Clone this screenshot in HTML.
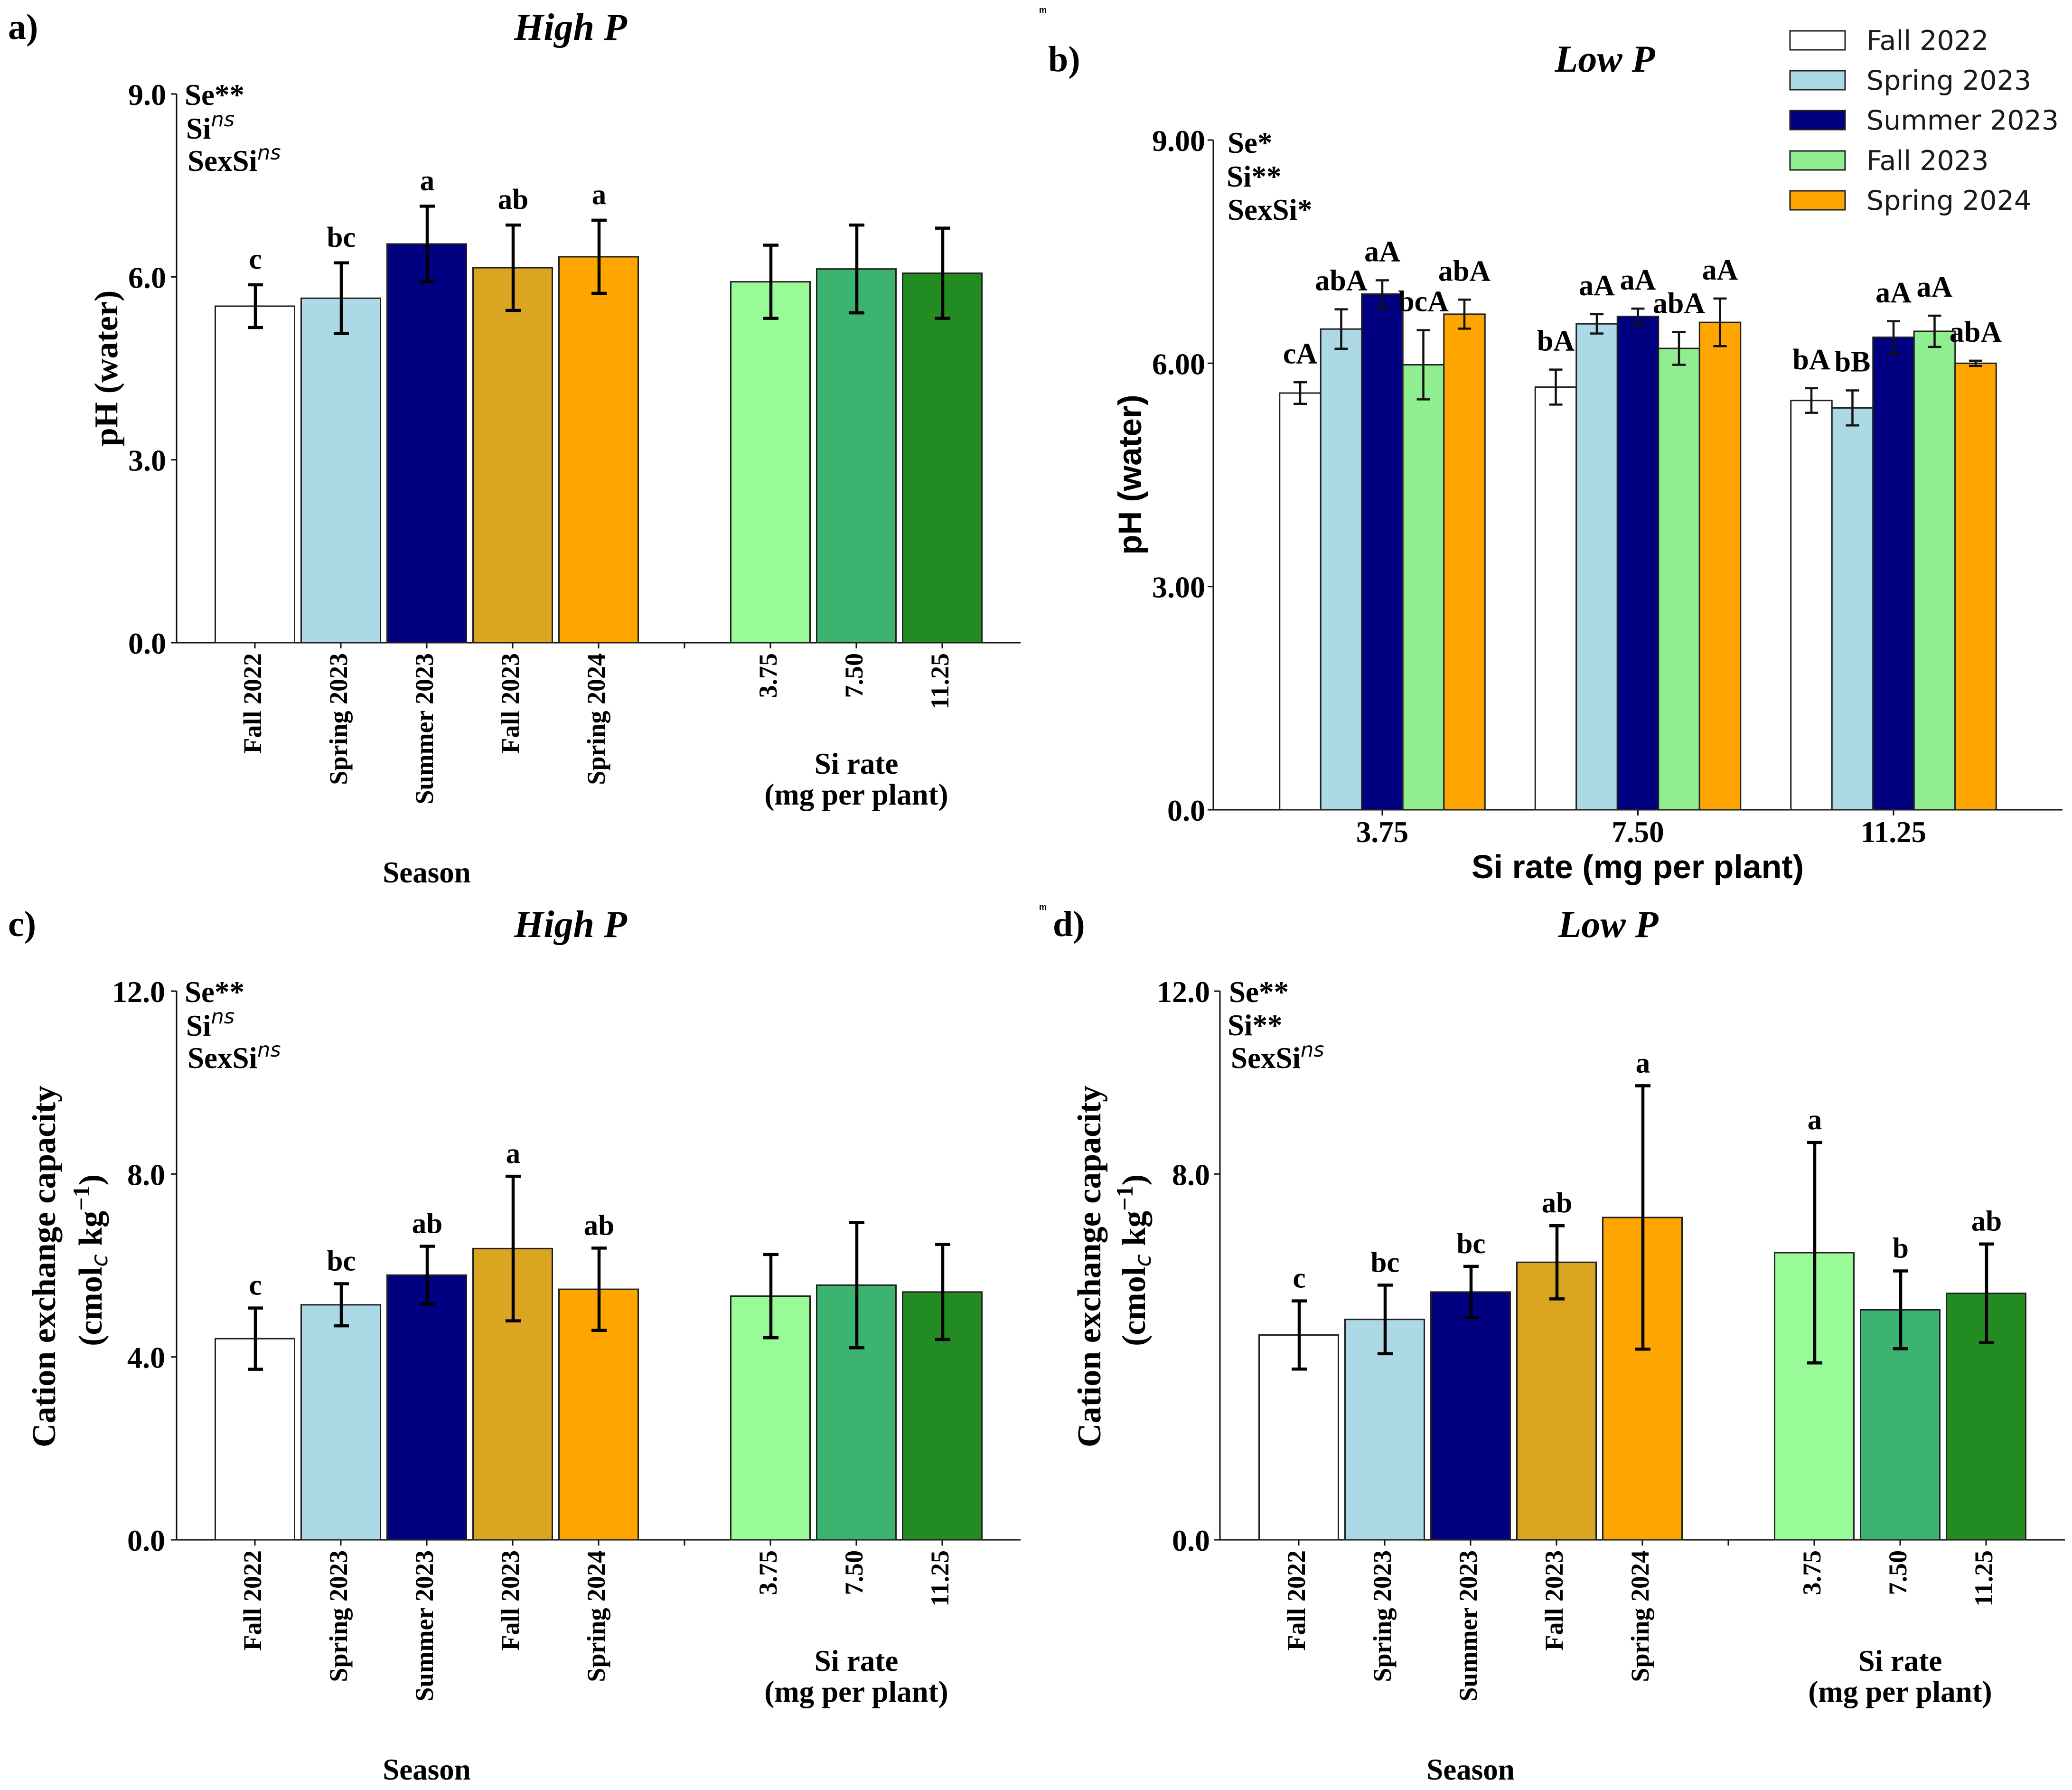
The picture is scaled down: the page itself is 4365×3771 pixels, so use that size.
<!DOCTYPE html>
<html lang="en">
<head>
<meta charset="utf-8">
<title>Soil pH and cation exchange capacity by season and Si rate</title>
<style>
html,body{margin:0;padding:0;background:#fff;}
svg{display:block;}
.s{font-family:"Liberation Serif",serif;font-weight:bold;fill:#000;}
.a{font-family:"Liberation Sans",sans-serif;font-weight:bold;fill:#000;}
.m{font-family:"DejaVu Sans",sans-serif;font-style:oblique;font-weight:normal;}
.l{font-family:"DejaVu Sans",sans-serif;fill:#1a1a1a;font-size:57px;}
</style>
</head>
<body>
<svg id="figure" xmlns="http://www.w3.org/2000/svg" width="4365" height="3771" viewBox="0 0 4365 3771">
<rect x="0" y="0" width="4365" height="3771" fill="#fff"/>

<text class="s" x="17" y="82" font-size="76">a)</text>
<text class="s" font-style="italic" x="1202" y="84" font-size="80" text-anchor="middle">High P</text>
<text class="s" font-size="70" text-anchor="middle" transform="translate(247,776) rotate(-90)">pH (water)</text>
<g class="s" font-size="63">
<text x="389" y="221">Se**</text>
<text x="392" y="292">Si<tspan class="m" font-size="43" dy="-26">ns</tspan></text>
<text x="395" y="360">SexSi<tspan class="m" font-size="43" dy="-24">ns</tspan></text>
</g>
<g id="panel-a"></g>

<text class="s" x="2208" y="150" font-size="76">b)</text>
<text class="s" font-style="italic" x="3381" y="151" font-size="80" text-anchor="middle">Low P</text>
<text class="a" font-size="69" text-anchor="middle" transform="translate(2404,1000) rotate(-90)">pH (water)</text>
<text class="a" font-size="70" text-anchor="middle" x="3450" y="1850">Si rate (mg per plant)</text>
<g class="s" font-size="63">
<text x="2586" y="322">Se*</text>
<text x="2584" y="393">Si**</text>
<text x="2586" y="463">SexSi*</text>
</g>
<g id="panel-b"></g>

<text class="s" x="17" y="1972" font-size="76">c)</text>
<text class="s" font-style="italic" x="1202" y="1974" font-size="80" text-anchor="middle">High P</text>
<text class="s" font-size="70" text-anchor="middle" transform="translate(116,2668) rotate(-90)">Cation exchange capacity</text>
<text class="s" font-size="70" text-anchor="middle" transform="translate(214,2655) rotate(-90)">(cmol<tspan class="m" font-size="48" dy="12">c</tspan><tspan dy="-12"> kg</tspan><tspan font-size="50" dy="-26">−1</tspan><tspan dy="26">)</tspan></text>
<g class="s" font-size="63">
<text x="389" y="2111">Se**</text>
<text x="392" y="2182">Si<tspan class="m" font-size="43" dy="-26">ns</tspan></text>
<text x="395" y="2250">SexSi<tspan class="m" font-size="43" dy="-24">ns</tspan></text>
</g>
<g id="panel-c"></g>

<text class="s" x="2218" y="1972" font-size="76">d)</text>
<text class="s" font-style="italic" x="3388" y="1974" font-size="80" text-anchor="middle">Low P</text>
<text class="s" font-size="70" text-anchor="middle" transform="translate(2318,2668) rotate(-90)">Cation exchange capacity</text>
<text class="s" font-size="70" text-anchor="middle" transform="translate(2412,2655) rotate(-90)">(cmol<tspan class="m" font-size="48" dy="12">c</tspan><tspan dy="-12"> kg</tspan><tspan font-size="50" dy="-26">−1</tspan><tspan dy="26">)</tspan></text>
<g class="s" font-size="63">
<text x="2589" y="2111">Se**</text>
<text x="2586" y="2181">Si**</text>
<text x="2593" y="2250">SexSi<tspan class="m" font-size="43" dy="-24">ns</tspan></text>
</g>
<g id="panel-d"></g>

<g>
<rect x="3771" y="65" width="116" height="40" fill="#ffffff" stroke="#222" stroke-width="3"/>
<text class="l" x="3932" y="105">Fall 2022</text>
<rect x="3771" y="149" width="116" height="40" fill="#ADD8E6" stroke="#222" stroke-width="3"/>
<text class="l" x="3932" y="189">Spring 2023</text>
<rect x="3771" y="233" width="116" height="40" fill="#000080" stroke="#222" stroke-width="3"/>
<text class="l" x="3932" y="273">Summer 2023</text>
<rect x="3771" y="318" width="116" height="40" fill="#90EE90" stroke="#222" stroke-width="3"/>
<text class="l" x="3932" y="358">Fall 2023</text>
<rect x="3771" y="402" width="116" height="40" fill="#FFA500" stroke="#222" stroke-width="3"/>
<text class="l" x="3932" y="442">Spring 2024</text>
</g>

<text class="a" x="2197" y="27" font-size="18" fill="#333" text-anchor="middle">m</text>
<text class="a" x="2197" y="1917" font-size="18" fill="#333" text-anchor="middle">m</text>
</svg>

<script>
// ---------- data: panels a, c, d (main effects) ----------
const mainCategories = ["Fall 2022", "Spring 2023", "Summer 2023", "Fall 2023", "Spring 2024", "3.75", "7.50", "11.25"];

const panelAValues = [5.52, 5.65, 6.54, 6.15, 6.33, 5.92, 6.13, 6.06];
const panelAErrors = [0.35, 0.58, 0.62, 0.70, 0.60, 0.60, 0.72, 0.74];
const panelALetters = ["c", "bc", "a", "ab", "a", "", "", ""];
const panelATicks = [0, 3, 6, 9];
const panelATickLabels = ["0.0", "3.0", "6.0", "9.0"];

const panelCValues = [4.40, 5.14, 5.79, 6.37, 5.48, 5.33, 5.57, 5.42];
const panelCErrors = [0.67, 0.46, 0.63, 1.58, 0.90, 0.91, 1.37, 1.04];
const panelCLetters = ["c", "bc", "ab", "a", "ab", "", "", ""];
const panelCTicks = [0, 4, 8, 12];
const panelCTickLabels = ["0.0", "4.0", "8.0", "12.0"];

const panelDValues = [4.48, 4.82, 5.42, 6.07, 7.05, 6.28, 5.03, 5.39];
const panelDErrors = [0.745, 0.75, 0.56, 0.80, 2.88, 2.41, 0.85, 1.08];
const panelDLetters = ["c", "bc", "bc", "ab", "a", "a", "b", "ab"];
const panelDTicks = [0, 8, 12];
const panelDTickLabels = ["0.0", "8.0", "12.0"];

const mainColors = ["#FFFFFF", "#ADD8E6", "#000080", "#DAA520", "#FFA500", "#98FB98", "#3CB371", "#228B22"];

// ---------- data: panel b (grouped) ----------
const groupCategories = ["3.75", "7.50", "11.25"];
const seriesNames = ["Fall 2022", "Spring 2023", "Summer 2023", "Fall 2023", "Spring 2024"];
const seriesFall2022 = [5.60, 5.68, 5.50];
const seriesSpring2023 = [6.46, 6.53, 5.40];
const seriesSummer2023 = [6.93, 6.63, 6.35];
const seriesFall2023 = [5.98, 6.20, 6.43];
const seriesSpring2024 = [6.66, 6.55, 6.00];
const errorsFall2022 = [0.145, 0.235, 0.165];
const errorsSpring2023 = [0.265, 0.13, 0.235];
const errorsSummer2023 = [0.185, 0.105, 0.215];
const errorsFall2023 = [0.465, 0.22, 0.21];
const errorsSpring2024 = [0.195, 0.32, 0.035];
const lettersFall2022 = ["cA", "bA", "bA"];
const lettersSpring2023 = ["abA", "aA", "bB"];
const lettersSummer2023 = ["aA", "aA", "aA"];
const lettersFall2023 = ["bcA", "abA", "aA"];
const lettersSpring2024 = ["abA", "aA", "abA"];
const panelBTicks = [0, 3, 6, 9];
const panelBTickLabels = ["0.0", "3.00", "6.00", "9.00"];
const groupColors = ["#FFFFFF", "#ADD8E6", "#000080", "#90EE90", "#FFA500"];

// ---------- drawing ----------
const NS = "http://www.w3.org/2000/svg";
function mk(parent, tag, attrs, text) {
  const el = document.createElementNS(NS, tag);
  for (const k in attrs) el.setAttribute(k, attrs[k]);
  if (text !== undefined) el.textContent = text;
  parent.appendChild(el);
  return el;
}
function slug(s) { return String(s).toLowerCase().replace(/[^a-z0-9]+/g, "-"); }

function drawAxes(g, axis, ticks, tickLabels, prefix) {
  const yScale = v => axis.y0 - (v / axis.max) * (axis.y0 - axis.yTop);
  const spineY = mk(g, "line", { x1: axis.x, x2: axis.x, y1: yScale(axis.max), y2: axis.y0, stroke: "#111", "stroke-width": 3 });
  
  
  const spineX = mk(g, "line", { x1: axis.x - 1.5, x2: axis.right, y1: axis.y0, y2: axis.y0, stroke: "#111", "stroke-width": 3 });
  
  
  ticks.forEach((t, i) => {
    const y = yScale(t);
    const tk = mk(g, "line", { x1: axis.x - 12, x2: axis.x, y1: y, y2: y, stroke: "#111", "stroke-width": 3 });
    
    
    const lb = mk(g, "text", { class: "s", x: axis.labelRight, y: y + 23, "font-size": 64, "text-anchor": "end" }, tickLabels[i]);
    
    
  });
  return yScale;
}

function drawMainPanel(id, prefix, axis, categories, values, errors, letters, ticks, tickLabels, colors) {
  const g = document.getElementById(id);
  const yScale = drawAxes(g, axis, ticks, tickLabels, prefix);
  const slotOf = i => (i < 5 ? i : i + 1);
  const xScale = i => axis.x0 + slotOf(i) * axis.step;

  // blank separator tick between the season and rate blocks
  const sep = mk(g, "line", { x1: axis.x0 + 5 * axis.step, x2: axis.x0 + 5 * axis.step, y1: axis.y0, y2: axis.y0 + 12, stroke: "#111", "stroke-width": 3 });
  
  

  categories.forEach((c, i) => {
    const x = xScale(i);
    const v = values[i];
    const bar = mk(g, "rect", { x: x - axis.barW / 2, y: yScale(v), width: axis.barW, height: axis.y0 - yScale(v), fill: colors[i], stroke: "#222", "stroke-width": 3 });
    
    
    const tk = mk(g, "line", { x1: x, x2: x, y1: axis.y0, y2: axis.y0 + 12, stroke: "#111", "stroke-width": 3 });
    
    
    const lb = mk(g, "text", { class: "s", "font-size": 54, "text-anchor": "end", transform: "translate(" + (x + 13) + "," + (axis.y0 + 22) + ") rotate(-90)" }, c);
    
    
  });
  categories.forEach((c, i) => {
    const x = xScale(i) + 1;
    const hi = yScale(values[i] + errors[i]);
    const lo = yScale(values[i] - errors[i]);
    const err = mk(g, "path", { d: "M" + x + " " + hi + "V" + lo + "M" + (x - 16) + " " + hi + "H" + (x + 16) + "M" + (x - 16) + " " + lo + "H" + (x + 16), fill: "none", stroke: "#000", "stroke-width": 6.5 });
    
    
    if (letters[i]) {
      const t = mk(g, "text", { class: "s", x: x, y: hi - axis.letterGap, "font-size": 61, "text-anchor": "middle" }, letters[i]);
      
      
    }
  });

  const rateA = mk(g, "text", { class: "s", x: xScale(6), y: axis.y0 + 276, "font-size": 63, "text-anchor": "middle" }, "Si rate");
  
  
  const rateB = mk(g, "text", { class: "s", x: xScale(6), y: axis.y0 + 341, "font-size": 63, "text-anchor": "middle" }, "(mg per plant)");
  
  
  const season = mk(g, "text", { class: "s", x: xScale(2), y: axis.y0 + 505, "font-size": 63, "text-anchor": "middle" }, "Season");
  
  
}

function drawGroupedPanel(id, prefix, axis, groups, names, seriesList, errorList, letterList, ticks, tickLabels, colors) {
  const g = document.getElementById(id);
  const yScale = drawAxes(g, axis, ticks, tickLabels, prefix);
  const groupX = i => axis.x0 + i * axis.step;
  const barX = (i, s) => groupX(i) + (s - (names.length - 1) / 2) * axis.barW;

  groups.forEach((c, i) => {
    const tk = mk(g, "line", { x1: groupX(i), x2: groupX(i), y1: axis.y0, y2: axis.y0 + 12, stroke: "#111", "stroke-width": 3 });
    
    
    const lb = mk(g, "text", { class: "s", x: groupX(i), y: axis.y0 + 68, "font-size": 63, "text-anchor": "middle" }, c);
    
    
  });
  names.forEach((n, s) => {
    groups.forEach((c, i) => {
      const x = barX(i, s);
      const v = seriesList[s][i];
      const bar = mk(g, "rect", { x: x - axis.barW / 2, y: yScale(v), width: axis.barW, height: axis.y0 - yScale(v), fill: colors[s], stroke: "#222", "stroke-width": 3 });
      
      
    });
  });
  names.forEach((n, s) => {
    groups.forEach((c, i) => {
      const x = barX(i, s);
      const v = seriesList[s][i];
      const e = errorList[s][i];
      const hi = yScale(v + e);
      const lo = yScale(v - e);
      const err = mk(g, "path", { d: "M" + x + " " + hi + "V" + lo + "M" + (x - 14) + " " + hi + "H" + (x + 14) + "M" + (x - 14) + " " + lo + "H" + (x + 14), fill: "none", stroke: "#111", "stroke-width": 4.5 });
      
      
      const t = mk(g, "text", { class: "s", x: x, y: hi - axis.letterGap, "font-size": 62, "text-anchor": "middle" }, letterList[s][i]);
      
      
    });
  });
}

drawMainPanel("panel-a", "panel-a",
  { x: 372, right: 2150, y0: 1354, yTop: 198, max: 9, x0: 537, step: 181, barW: 167, labelRight: 350, letterGap: 34 },
  mainCategories, panelAValues, panelAErrors, panelALetters, panelATicks, panelATickLabels, mainColors);

drawMainPanel("panel-c", "panel-c",
  { x: 372, right: 2150, y0: 3244, yTop: 2088, max: 12, x0: 537, step: 181, barW: 167, labelRight: 348, letterGap: 28 },
  mainCategories, panelCValues, panelCErrors, panelCLetters, panelCTicks, panelCTickLabels, mainColors);

drawMainPanel("panel-d", "panel-d",
  { x: 2570, right: 4350, y0: 3244, yTop: 2088, max: 12, x0: 2736, step: 181, barW: 167, labelRight: 2549, letterGap: 28 },
  mainCategories, panelDValues, panelDErrors, panelDLetters, panelDTicks, panelDTickLabels, mainColors);

drawGroupedPanel("panel-b", "panel-b",
  { x: 2556, right: 4345, y0: 1706, yTop: 295, max: 9, x0: 2912, step: 538.5, barW: 86.5, labelRight: 2539, letterGap: 40 },
  groupCategories, seriesNames,
  [seriesFall2022, seriesSpring2023, seriesSummer2023, seriesFall2023, seriesSpring2024],
  [errorsFall2022, errorsSpring2023, errorsSummer2023, errorsFall2023, errorsSpring2024],
  [lettersFall2022, lettersSpring2023, lettersSummer2023, lettersFall2023, lettersSpring2024],
  panelBTicks, panelBTickLabels, groupColors);
</script>
</body>
</html>
